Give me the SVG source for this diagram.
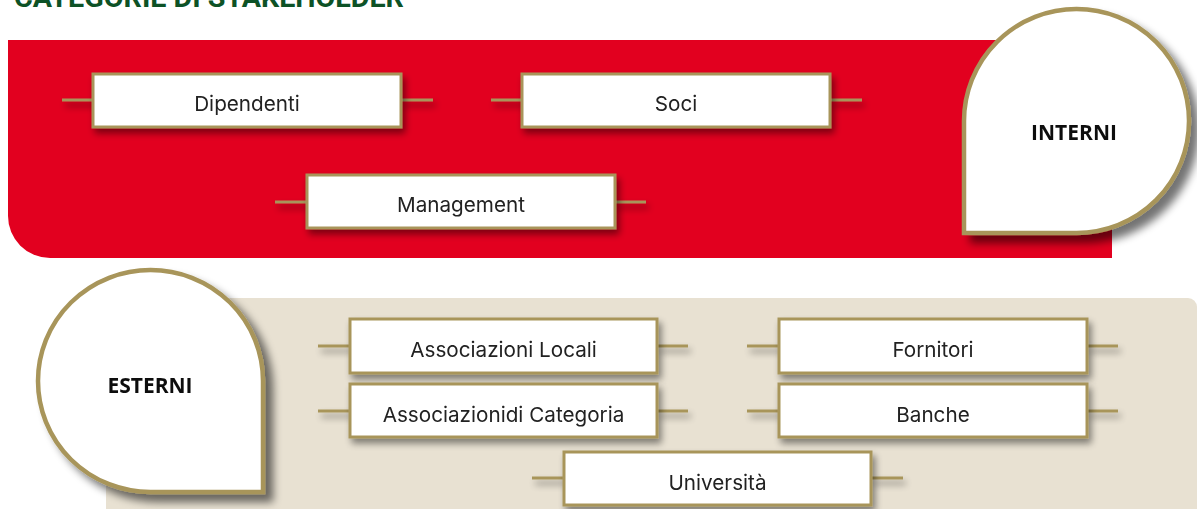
<svg xmlns="http://www.w3.org/2000/svg" width="1197" height="509" viewBox="0 0 1197 509">
  <style>
    .title { font-family: Roboto, "Liberation Sans", sans-serif; font-weight: 700; font-size: 28px; fill: #0d5226; }
    .box { fill: #ffffff; stroke: #a8955a; stroke-width: 3; }
    .label { font-family: Inter, "Liberation Sans", sans-serif; font-size: 20.7px; fill: #222222; text-anchor: middle; }
    .drop { fill: #ffffff; stroke: #a8955a; stroke-width: 4.5; }
    .head { font-family: "Open Sans", "Liberation Sans", sans-serif; font-weight: 700; font-size: 21px; fill: #111111; text-anchor: middle; }
    .link { stroke: #a8955a; stroke-width: 3; fill: none; }
  </style>
  <defs>
    <filter id="boxShadow" x="-10%" y="-30%" width="130%" height="180%">
      <feGaussianBlur in="SourceAlpha" stdDeviation="3.5"/>
      <feOffset dx="3" dy="5" result="blur"/>
      <feComponentTransfer><feFuncA type="linear" slope="0.45"/></feComponentTransfer>
      <feMerge><feMergeNode/><feMergeNode in="SourceGraphic"/></feMerge>
    </filter>
    <filter id="dropShadow" x="-20%" y="-20%" width="150%" height="150%">
      <feGaussianBlur in="SourceAlpha" stdDeviation="4.5"/>
      <feOffset dx="8" dy="8" result="blur"/>
      <feComponentTransfer><feFuncA type="linear" slope="0.55"/></feComponentTransfer>
      <feMerge><feMergeNode/><feMergeNode in="SourceGraphic"/></feMerge>
    </filter>
  </defs>

  <!-- heading, partly above the top edge -->
  <text class="title" x="14" y="6.5" textLength="390" lengthAdjust="spacingAndGlyphs">CATEGORIE DI STAKEHOLDER</text>

  <!-- background bands -->
  <path d="M8,40 H1112 V258 H50 A42,42 0 0 1 8,216 Z" fill="#e2001f"/>
  <path d="M106,298 H1188 A9,9 0 0 1 1197,307 V509 H106 Z" fill="#e8e1d2"/>

  <!-- connectors -->
  <g id="connectors" filter="url(#boxShadow)">
    <path class="link" d="M62,100 H93 M401,100 H433"/>
    <path class="link" d="M491,100 H522 M830,100 H862"/>
    <path class="link" d="M275,202 H307 M615,202 H646"/>
    <path class="link" d="M318,346 H350 M657,346 H688"/>
    <path class="link" d="M318,411 H350 M657,411 H688"/>
    <path class="link" d="M747,346 H779 M1087,346 H1118"/>
    <path class="link" d="M747,411 H779 M1087,411 H1118"/>
    <path class="link" d="M532,478 H564 M871,478 H903"/>
  </g>

  <!-- internal stakeholders -->
  <g id="dipendenti" filter="url(#boxShadow)">
    <rect class="box" x="93" y="74" width="308" height="53"/>
    <text class="label" x="247" y="111">Dipendenti</text>
  </g>
  <g id="soci" filter="url(#boxShadow)">
    <rect class="box" x="522" y="74" width="308" height="53"/>
    <text class="label" x="676" y="111">Soci</text>
  </g>
  <g id="management" filter="url(#boxShadow)">
    <rect class="box" x="307" y="175" width="308" height="53"/>
    <text class="label" x="461" y="212">Management</text>
  </g>
  <g id="interni" filter="url(#dropShadow)">
    <path class="drop" d="M964,121 A112.5,112 0 1 1 1076.5,233 H964 Z"/>
    <text class="head" x="1074" y="139.5">INTERNI</text>
  </g>

  <!-- external stakeholders -->
  <g id="esterni" filter="url(#dropShadow)">
    <path class="drop" d="M150.5,492 A112.5,111 0 1 1 263,381 V492 Z"/>
    <text class="head" x="150" y="392.5">ESTERNI</text>
  </g>
  <g id="associazioni-locali" filter="url(#boxShadow)">
    <rect class="box" x="350" y="319" width="307" height="54"/>
    <text class="label" x="503.5" y="356.5">Associazioni Locali</text>
  </g>
  <g id="associazioni-categoria" filter="url(#boxShadow)">
    <rect class="box" x="350" y="384" width="307" height="53"/>
    <text class="label" x="503.5" y="421.5">Associazionidi Categoria</text>
  </g>
  <g id="fornitori" filter="url(#boxShadow)">
    <rect class="box" x="779" y="319" width="308" height="54"/>
    <text class="label" x="933" y="356.5">Fornitori</text>
  </g>
  <g id="banche" filter="url(#boxShadow)">
    <rect class="box" x="779" y="384" width="308" height="53"/>
    <text class="label" x="933" y="421.5">Banche</text>
  </g>
  <g id="universita" filter="url(#boxShadow)">
    <rect class="box" x="564" y="452" width="307" height="53"/>
    <text class="label" x="717.5" y="489.5">Università</text>
  </g>
</svg>
